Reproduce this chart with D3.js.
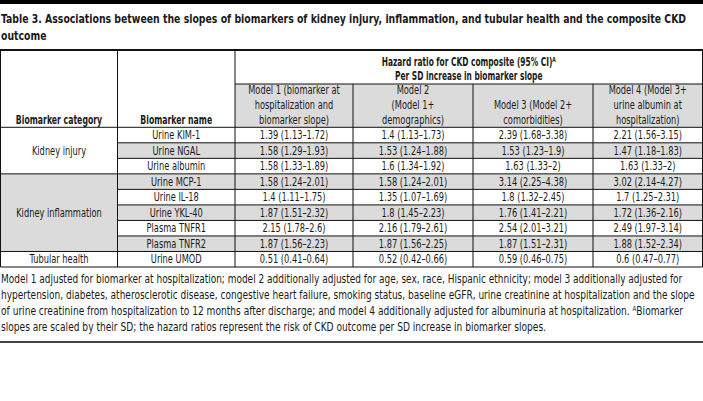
<!DOCTYPE html>
<html><head><meta charset="utf-8">
<script src="https://cdn.jsdelivr.net/npm/d3@7"></script>
<style>
html,body{margin:0;padding:0;background:#fff;}
svg{display:block;}
text{font-family:'DejaVu Sans Condensed','DejaVu Sans',sans-serif;fill:#1a1a1a;}
</style></head>
<body>
<script>
const categories = ["Kidney injury", "Kidney inflammation", "Tubular health"];
const categorySpans = [3, 5, 1];
const biomarkers = ["Urine KIM-1", "Urine NGAL", "Urine albumin", "Urine MCP-1", "Urine IL-18",
  "Urine YKL-40", "Plasma TNFR1", "Plasma TNFR2", "Urine UMOD"];
const modelHeaders = [
  ["Model 1 (biomarker at", "hospitalization and", "biomarker slope)"],
  ["Model 2", "(Model 1+", "demographics)"],
  ["Model 3 (Model 2+", "comorbidities)"],
  ["Model 4 (Model 3+", "urine albumin at", "hospitalization)"]
];
const hrModel1 = [1.39, 1.58, 1.58, 1.58, 1.4, 1.87, 2.15, 1.87, 0.51];
const loModel1 = [1.13, 1.29, 1.33, 1.24, 1.11, 1.51, 1.78, 1.56, 0.41];
const hiModel1 = [1.72, 1.93, 1.89, 2.01, 1.75, 2.32, 2.6, 2.23, 0.64];
const hrModel2 = [1.4, 1.53, 1.6, 1.58, 1.35, 1.8, 2.16, 1.87, 0.52];
const loModel2 = [1.13, 1.24, 1.34, 1.24, 1.07, 1.45, 1.79, 1.56, 0.42];
const hiModel2 = [1.73, 1.88, 1.92, 2.01, 1.69, 2.23, 2.61, 2.25, 0.66];
const hrModel3 = [2.39, 1.53, 1.63, 3.14, 1.8, 1.76, 2.54, 1.87, 0.59];
const loModel3 = [1.68, 1.23, 1.33, 2.25, 1.32, 1.41, 2.01, 1.51, 0.46];
const hiModel3 = [3.38, 1.9, 2, 4.38, 2.45, 2.21, 3.21, 2.31, 0.75];
const hrModel4 = [2.21, 1.47, 1.63, 3.02, 1.7, 1.72, 2.49, 1.88, 0.6];
const loModel4 = [1.56, 1.18, 1.33, 2.14, 1.25, 1.36, 1.97, 1.52, 0.47];
const hiModel4 = [3.15, 1.83, 2, 4.27, 2.31, 2.16, 3.14, 2.34, 0.77];
const titleLines = ["Table 3. Associations between the slopes of biomarkers of kidney injury, inflammation, and tubular health and the composite CKD", "outcome"];
const footLines = [
  "Model 1 adjusted for biomarker at hospitalization; model 2 additionally adjusted for age, sex, race, Hispanic ethnicity; model 3 additionally adjusted for",
  "hypertension, diabetes, atherosclerotic disease, congestive heart failure, smoking status, baseline eGFR, urine creatinine at hospitalization and the slope",
  "of urine creatinine from hospitalization to 12 months after discharge; and model 4 additionally adjusted for albuminuria at hospitalization. |Biomarker",
  "slopes are scaled by their SD; the hazard ratios represent the risk of CKD outcome per SD increase in biomarker slopes."
];
const footWidths = [682, 693, 682, null];

const models = [
  {hr: hrModel1, lo: loModel1, hi: hiModel1},
  {hr: hrModel2, lo: loModel2, hi: hiModel2},
  {hr: hrModel3, lo: loModel3, hi: hiModel3},
  {hr: hrModel4, lo: loModel4, hi: hiModel4}
];

const W = 703, H = 401;
const GRAY = "#dbdbdb";
const FS = 11.5;
const SX = 0.8, SXB = 0.75;
const svg = d3.select("body").append("svg").attr("width", W).attr("height", H);
svg.append("rect").attr("width", W).attr("height", H).attr("fill", "#fff");

function addText(x, y, str, opts) {
  opts = opts || {};
  const sx = opts.sx || (opts.bold ? SXB : SX);
  const t = svg.append("text")
    .attr("transform", `translate(${x},${y}) scale(${sx},1)`)
    .attr("text-anchor", opts.anchor || "middle")
    .attr("font-size", opts.size || FS)
    .attr("font-weight", opts.bold ? "bold" : null);
  if (str !== null) t.text(str);
  return t;
}
function fitWidth(t, x, y, target) {
  const len = t.node().getComputedTextLength();
  t.attr("transform", `translate(${x},${y}) scale(${target / len},1)`);
  return target / len;
}

// top black bar
svg.append("rect").attr("x", 0).attr("y", 0).attr("width", W).attr("height", 4).attr("fill", "#000");

// title
const t1 = addText(1, 22.5, titleLines[0], {anchor: "start", bold: true, size: 12.8});
const tsx = fitWidth(t1, 1, 22.5, 685);
addText(1, 39.5, titleLines[1], {anchor: "start", bold: true, size: 12.8, sx: tsx});

// table geometry
const tableTop = 50, subTop = 84, headBottom = 127.3, tableBottom = 267;
const colEdges = [0.5, 117.5, 235, 353, 473, 593, 702.5];
const y = d3.scaleBand().domain(biomarkers).range([headBottom, tableBottom]);
const rowH = y.bandwidth();

// row backgrounds (cols 2..6)
biomarkers.forEach((b, i) => {
  if (i % 2 === 1) {
    svg.append("rect").attr("x", colEdges[1]).attr("y", y(b))
      .attr("width", colEdges[6] - colEdges[1]).attr("height", rowH).attr("fill", GRAY);
  }
});
// category cells
let start = 0;
const catCells = categories.map((c, i) => {
  const r0 = start; start += categorySpans[i];
  return {name: c, y0: y(biomarkers[r0]), y1: y(biomarkers[start - 1]) + rowH, gray: i === 1};
});
catCells.forEach(c => {
  svg.append("rect").attr("x", colEdges[0]).attr("y", c.y0).attr("width", colEdges[1] - colEdges[0])
    .attr("height", c.y1 - c.y0).attr("fill", c.gray ? GRAY : "#fff");
});
// model header backgrounds
svg.append("rect").attr("x", colEdges[2]).attr("y", subTop).attr("width", colEdges[6] - colEdges[2])
  .attr("height", headBottom - subTop).attr("fill", GRAY);

catCells.forEach(c => addText((colEdges[0] + colEdges[1]) / 2, (c.y0 + c.y1) / 2 + 4, c.name));

// header texts
const hb = headBottom - 3.5;
addText((colEdges[0] + colEdges[1]) / 2, hb, "Biomarker category", {bold: true});
addText((colEdges[1] + colEdges[2]) / 2, hb, "Biomarker name", {bold: true});
const hzX = (colEdges[2] + colEdges[6]) / 2;
const hz = addText(hzX, 66, null, {bold: true, sx: 0.72});
hz.append("tspan").text("Hazard ratio for CKD composite (95% CI)");
hz.append("tspan").attr("font-size", 7).attr("dy", -4).text("A");
addText(hzX, 80, "Per SD increase in biomarker slope", {bold: true, sx: 0.72});

modelHeaders.forEach((lines, m) => {
  const cx = (colEdges[2 + m] + colEdges[3 + m]) / 2;
  const n = lines.length;
  lines.forEach((l, k) => addText(cx, hb - (n - 1 - k) * 15, l));
});

// data texts
const fmt = v => String(v);
biomarkers.forEach((b, i) => {
  const ty = y(b) + rowH / 2 + 4;
  addText((colEdges[1] + colEdges[2]) / 2, ty, b);
  models.forEach((md, m) => {
    addText((colEdges[2 + m] + colEdges[3 + m]) / 2, ty,
      `${fmt(md.hr[i])} (${fmt(md.lo[i])}\u2013${fmt(md.hi[i])})`);
  });
});

// grid lines
const line = (x1, y1, x2, y2, w) => svg.append("line").attr("x1", x1).attr("y1", y1).attr("x2", x2).attr("y2", y2)
  .attr("stroke", "#111").attr("stroke-width", w || 1);
biomarkers.forEach((b, i) => {
  if (i === 0) return;
  const yy = y(b);
  const catBoundary = catCells.some(c => Math.abs(c.y0 - yy) < 0.01);
  line(catBoundary ? colEdges[0] : colEdges[1], yy, colEdges[6], yy);
});
line(colEdges[2], subTop, colEdges[6], subTop);
line(colEdges[0], headBottom, colEdges[6], headBottom);
line(colEdges[0], tableBottom, colEdges[6], tableBottom);
colEdges.forEach((cx, j) => {
  const top = (j >= 3 && j <= 5) ? subTop : tableTop;
  line(cx, top, cx, tableBottom);
});
line(0, tableTop, W, tableTop, 2);

// footnote
let lastScale = SX;
footLines.forEach((d, i) => {
  const fy = 282.5 + i * 16;
  const t = addText(1, fy, null, {anchor: "start", sx: lastScale});
  const parts = d.split("|");
  t.append("tspan").text(parts[0]);
  if (parts.length > 1) {
    t.append("tspan").attr("font-size", 7).attr("dy", -4).text("A");
    t.append("tspan").attr("dy", 4).text(parts[1]);
  }
  if (footWidths[i]) lastScale = fitWidth(t, 1, fy, footWidths[i]);
});

// bottom rule
svg.append("rect").attr("x", 0).attr("y", 341).attr("width", W).attr("height", 2).attr("fill", "#444");
</script>
</body></html>
